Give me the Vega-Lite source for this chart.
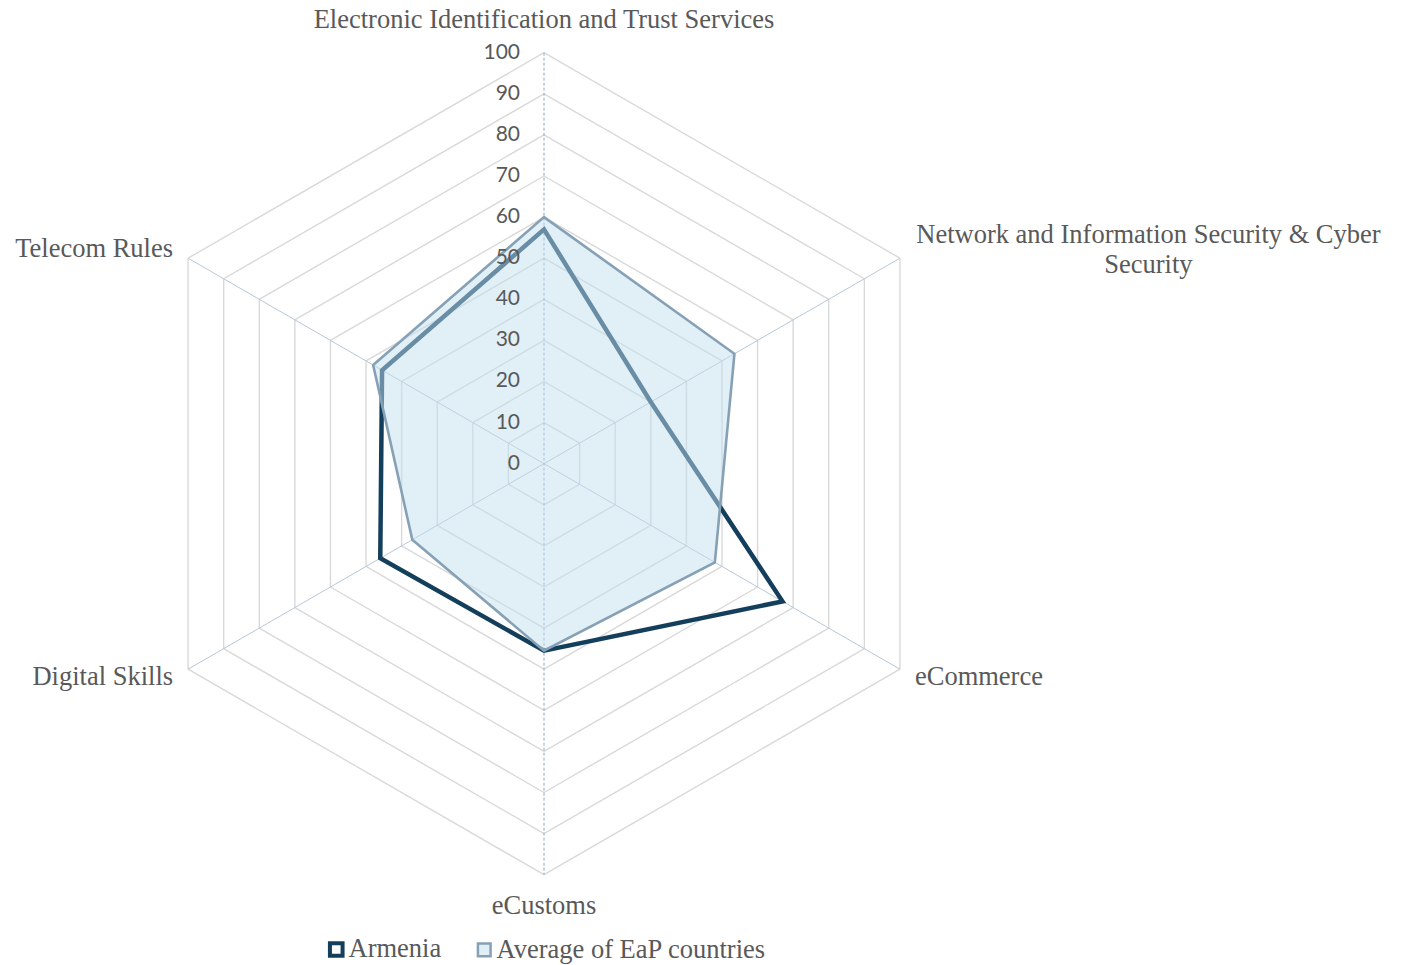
{
  "$schema": "https://vega.github.io/schema/vega-lite/v6.json",
  "width": 1403,
  "height": 965,
  "autosize": {"type": "none"},
  "padding": 0,
  "background": "white",
  "config": {"view": {"stroke": null}},
  "datasets": {
    "scores": [
      {"series": "Armenia", "axis": "Electronic Identification and Trust Services", "k": 0, "value": 57},
      {"series": "Armenia", "axis": "Network and Information Security & Cyber Security", "k": 1, "value": 30},
      {"series": "Armenia", "axis": "eCommerce", "k": 2, "value": 67},
      {"series": "Armenia", "axis": "eCustoms", "k": 3, "value": 45.5},
      {"series": "Armenia", "axis": "Digital Skills", "k": 4, "value": 46},
      {"series": "Armenia", "axis": "Telecom Rules", "k": 5, "value": 45.5},
      {"series": "Average of EaP countries", "axis": "Electronic Identification and Trust Services", "k": 0, "value": 60},
      {"series": "Average of EaP countries", "axis": "Network and Information Security & Cyber Security", "k": 1, "value": 53.5},
      {"series": "Average of EaP countries", "axis": "eCommerce", "k": 2, "value": 48},
      {"series": "Average of EaP countries", "axis": "eCustoms", "k": 3, "value": 45.5},
      {"series": "Average of EaP countries", "axis": "Digital Skills", "k": 4, "value": 37},
      {"series": "Average of EaP countries", "axis": "Telecom Rules", "k": 5, "value": 48}
    ],
    "grid": [
      {"level": 10, "k": [0, 1, 2, 3, 4, 5]},
      {"level": 20, "k": [0, 1, 2, 3, 4, 5]},
      {"level": 30, "k": [0, 1, 2, 3, 4, 5]},
      {"level": 40, "k": [0, 1, 2, 3, 4, 5]},
      {"level": 50, "k": [0, 1, 2, 3, 4, 5]},
      {"level": 60, "k": [0, 1, 2, 3, 4, 5]},
      {"level": 70, "k": [0, 1, 2, 3, 4, 5]},
      {"level": 80, "k": [0, 1, 2, 3, 4, 5]},
      {"level": 90, "k": [0, 1, 2, 3, 4, 5]},
      {"level": 100, "k": [0, 1, 2, 3, 4, 5]}
    ],
    "spokes": [
      {"level": 100, "k": 1},
      {"level": 100, "k": 2}
    ],
    "valueaxis": [
      {"level": 100, "k": 0}
    ],
    "ticks": [
      {"v": 0}, {"v": 10}, {"v": 20}, {"v": 30}, {"v": 40}, {"v": 50},
      {"v": 60}, {"v": 70}, {"v": 80}, {"v": 90}, {"v": 100}
    ],
    "cats": [
      {"k": 0, "level": 100, "label": "Electronic Identification and Trust Services"},
      {"k": 1, "level": 100, "label": "Network and Information Security & Cyber\nSecurity"},
      {"k": 2, "level": 100, "label": "eCommerce"},
      {"k": 3, "level": 100, "label": "eCustoms"},
      {"k": 4, "level": 100, "label": "Digital Skills"},
      {"k": 5, "level": 100, "label": "Telecom Rules"}
    ]
  },
  "encoding": {
    "x": {"field": "x", "type": "quantitative", "scale": {"domain": [-132.36, 209.0], "nice": false, "zero": false}, "axis": null},
    "y": {"field": "y", "type": "quantitative", "scale": {"domain": [-121.97, 112.82], "nice": false, "zero": false}, "axis": null}
  },
  "layer": [
    {
      "data": {"name": "grid"},
      "transform": [
        {"flatten": ["k"]},
        {"calculate": "datum.k*PI/3", "as": "a"},
        {"calculate": "datum.level*sin(datum.a)", "as": "x"},
        {"calculate": "datum.level*cos(datum.a)", "as": "y"},
        {"calculate": "datum.level*sin(datum.a+PI/3)", "as": "xe"},
        {"calculate": "datum.level*cos(datum.a+PI/3)", "as": "ye"}
      ],
      "mark": {"type": "rule", "color": "#d9d9d9", "strokeWidth": 1.4},
      "encoding": {
        "x2": {"field": "xe"},
        "y2": {"field": "ye"}
      }
    },
    {
      "data": {"name": "spokes"},
      "transform": [
        {"calculate": "datum.k*PI/3", "as": "a"},
        {"calculate": "datum.level*sin(datum.a)", "as": "x"},
        {"calculate": "datum.level*cos(datum.a)", "as": "y"},
        {"calculate": "-datum.level*sin(datum.a)", "as": "xe"},
        {"calculate": "-datum.level*cos(datum.a)", "as": "ye"}
      ],
      "mark": {"type": "rule", "color": "#b8c8d6", "strokeWidth": 1},
      "encoding": {
        "x2": {"field": "xe"},
        "y2": {"field": "ye"}
      }
    },
    {
      "data": {"name": "valueaxis"},
      "transform": [
        {"calculate": "datum.k*PI/3", "as": "a"},
        {"calculate": "datum.level*sin(datum.a)", "as": "x"},
        {"calculate": "datum.level*cos(datum.a)", "as": "y"},
        {"calculate": "-datum.level*sin(datum.a)", "as": "xe"},
        {"calculate": "-datum.level*cos(datum.a)", "as": "ye"}
      ],
      "mark": {"type": "rule", "color": "#8ea8be", "strokeWidth": 1, "strokeDash": [3, 2]},
      "encoding": {
        "x2": {"field": "xe"},
        "y2": {"field": "ye"}
      }
    },
    {
      "data": {"name": "scores"},
      "transform": [
        {"filter": "datum.series === 'Armenia'"},
        {"calculate": "datum.k*PI/3", "as": "a"},
        {"calculate": "datum.value*sin(datum.a)", "as": "x"},
        {"calculate": "datum.value*cos(datum.a)", "as": "y"}
      ],
      "mark": {"type": "line", "interpolate": "linear-closed", "strokeWidth": 4.5, "strokeJoin": "miter"},
      "encoding": {
        "order": {"field": "k"},
        "stroke": {
          "field": "series", "type": "nominal",
          "scale": {"domain": ["Armenia", "Average of EaP countries"], "range": ["#143f5c", "#86a1b5"]},
          "legend": {"orient": "none", "legendX": 323, "legendY": 936, "direction": "horizontal", "title": null, "symbolType": "square", "symbolSize": 160, "symbolStrokeWidth": 3, "labelFont": "Liberation Serif", "labelFontSize": 26.5, "labelColor": "#595959", "columnPadding": 29, "labelOffset": -1, "padding": 0, "labelLimit": 500,
            "encode": {"symbols": {"update": {"fillOpacity": {"value": 0.5}, "strokeWidth": {"signal": "datum.value === 'Armenia' ? 4 : 2.5"}}}}}
        },
        "fill": {
          "field": "series", "type": "nominal",
          "scale": {"domain": ["Armenia", "Average of EaP countries"], "range": ["transparent", "#c2deee"]},
          "legend": {"orient": "none", "legendX": 323, "legendY": 936, "direction": "horizontal", "title": null, "symbolType": "square", "symbolSize": 160, "symbolStrokeWidth": 3, "labelFont": "Liberation Serif", "labelFontSize": 26.5, "labelColor": "#595959", "columnPadding": 29, "labelOffset": -1, "padding": 0, "labelLimit": 500,
            "encode": {"symbols": {"update": {"fillOpacity": {"value": 0.5}, "strokeWidth": {"signal": "datum.value === 'Armenia' ? 4 : 2.5"}}}}}
        }
      }
    },
    {
      "data": {"name": "scores"},
      "transform": [
        {"filter": "datum.series === 'Average of EaP countries'"},
        {"calculate": "datum.k*PI/3", "as": "a"},
        {"calculate": "datum.value*sin(datum.a)", "as": "x"},
        {"calculate": "datum.value*cos(datum.a)", "as": "y"}
      ],
      "mark": {"type": "line", "interpolate": "linear-closed", "strokeWidth": 2.6, "fillOpacity": 0.49, "strokeJoin": "miter"},
      "encoding": {
        "order": {"field": "k"},
        "stroke": {"field": "series", "type": "nominal"},
        "fill": {"field": "series", "type": "nominal"}
      }
    },
    {
      "data": {"name": "ticks"},
      "transform": [
        {"calculate": "datum.v*sin(0)", "as": "x"},
        {"calculate": "datum.v*cos(0)", "as": "y"}
      ],
      "mark": {"type": "text", "align": "right", "baseline": "middle", "dx": -24, "font": "Lato", "fontSize": 21, "color": "#595959"},
      "encoding": {
        "text": {"field": "v", "type": "quantitative"}
      }
    },
    {
      "data": {"name": "cats"},
      "transform": [
        {"filter": "datum.k === 0"},
        {"calculate": "datum.k*PI/3", "as": "a"},
        {"calculate": "datum.level*sin(datum.a)", "as": "x"},
        {"calculate": "datum.level*cos(datum.a)", "as": "y"}
      ],
      "mark": {"type": "text", "align": "center", "baseline": "middle", "dy": -33, "font": "Liberation Serif", "fontSize": 26.5, "color": "#595959"},
      "encoding": {"text": {"field": "label"}}
    },
    {
      "data": {"name": "cats"},
      "transform": [
        {"filter": "datum.k === 1"},
        {"calculate": "datum.k*PI/3", "as": "a"},
        {"calculate": "datum.level*sin(datum.a)", "as": "x"},
        {"calculate": "datum.level*cos(datum.a)", "as": "y"}
      ],
      "mark": {"type": "text", "align": "center", "baseline": "middle", "dx": 248.5, "dy": -23.5, "lineBreak": "\n", "lineHeight": 30, "font": "Liberation Serif", "fontSize": 26.5, "color": "#595959"},
      "encoding": {"text": {"field": "label"}}
    },
    {
      "data": {"name": "cats"},
      "transform": [
        {"filter": "datum.k === 2"},
        {"calculate": "datum.k*PI/3", "as": "a"},
        {"calculate": "datum.level*sin(datum.a)", "as": "x"},
        {"calculate": "datum.level*cos(datum.a)", "as": "y"}
      ],
      "mark": {"type": "text", "align": "left", "baseline": "middle", "dx": 15, "dy": 8, "font": "Liberation Serif", "fontSize": 26.5, "color": "#595959"},
      "encoding": {"text": {"field": "label"}}
    },
    {
      "data": {"name": "cats"},
      "transform": [
        {"filter": "datum.k === 3"},
        {"calculate": "datum.k*PI/3", "as": "a"},
        {"calculate": "datum.level*sin(datum.a)", "as": "x"},
        {"calculate": "datum.level*cos(datum.a)", "as": "y"}
      ],
      "mark": {"type": "text", "align": "center", "baseline": "middle", "dy": 31, "font": "Liberation Serif", "fontSize": 26.5, "color": "#595959"},
      "encoding": {"text": {"field": "label"}}
    },
    {
      "data": {"name": "cats"},
      "transform": [
        {"filter": "datum.k === 4"},
        {"calculate": "datum.k*PI/3", "as": "a"},
        {"calculate": "datum.level*sin(datum.a)", "as": "x"},
        {"calculate": "datum.level*cos(datum.a)", "as": "y"}
      ],
      "mark": {"type": "text", "align": "right", "baseline": "middle", "dx": -15, "dy": 8, "font": "Liberation Serif", "fontSize": 26.5, "color": "#595959"},
      "encoding": {"text": {"field": "label"}}
    },
    {
      "data": {"name": "cats"},
      "transform": [
        {"filter": "datum.k === 5"},
        {"calculate": "datum.k*PI/3", "as": "a"},
        {"calculate": "datum.level*sin(datum.a)", "as": "x"},
        {"calculate": "datum.level*cos(datum.a)", "as": "y"}
      ],
      "mark": {"type": "text", "align": "right", "baseline": "middle", "dx": -15, "dy": -9, "font": "Liberation Serif", "fontSize": 26.5, "color": "#595959"},
      "encoding": {"text": {"field": "label"}}
    }
  ]
}
